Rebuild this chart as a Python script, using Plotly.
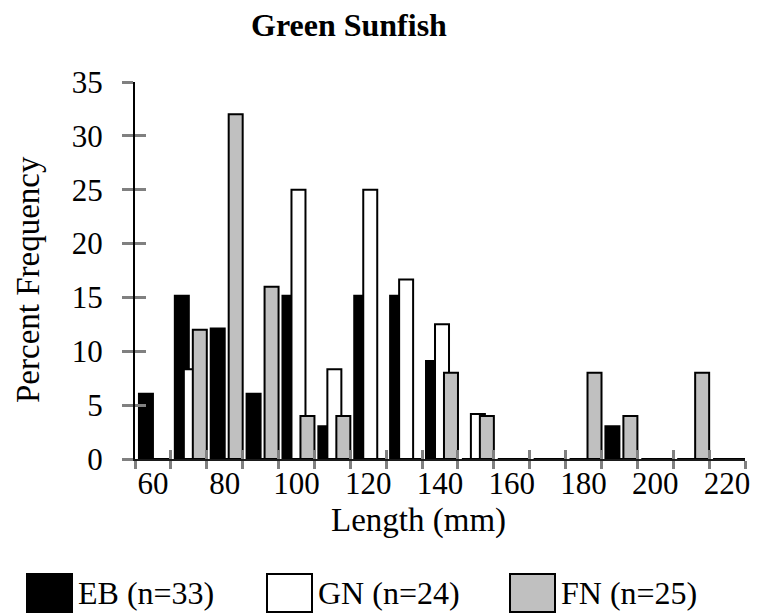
import plotly.graph_objects as go

# ---------------- data ----------------
length_bins = [60, 70, 80, 90, 100, 110, 120, 130, 140, 150, 160, 170, 180, 190, 200, 210, 220]
eb_values = [6.06, 15.15, 12.12, 6.06, 15.15, 3.03, 15.15, 15.15, 9.09, 0, 0, 0, 0, 3.03, 0, 0, 0]
gn_values = [0, 8.33, 0, 0, 25.0, 8.33, 25.0, 16.67, 12.5, 4.17, 0, 0, 0, 0, 0, 0, 0]
fn_values = [0, 12, 32, 16, 4, 4, 0, 0, 8, 4, 0, 0, 8, 4, 0, 8, 0]
series_names = ["EB (n=33)", "GN (n=24)", "FN (n=25)"]
tick_labels = ["60", "80", "100", "120", "140", "160", "180", "200", "220"]
y_ticks = [0, 5, 10, 15, 20, 25, 30, 35]
chart_title = "Green Sunfish"
x_title = "Length (mm)"
y_title = "Percent Frequency"

# ---------------- style ----------------
FONT = "Liberation Serif"
fills = ["#000000", "#FFFFFF", "#C0C0C0"]
bar_width = 3.9
bar_offsets = [-3.9, -1.39, 1.11]
PAGE_OFF = 8  # browser body margin
W, H = 760 - PAGE_OFF, 615 - PAGE_OFF
L, R, T, B = 135 - PAGE_OFF, 15, 82 - PAGE_OFF, 156
pw, ph = W - L - R, H - T - B

step = length_bins[1] - length_bins[0]
x_range = [length_bins[0] - step / 2, length_bins[-1] + step / 2]
boundaries = [length_bins[0] - step / 2 + i * step for i in range(len(length_bins) + 1)]
label_vals = [int(t) for t in tick_labels]

fig = go.Figure()
for name, vals, col, off in zip(series_names, [eb_values, gn_values, fn_values], fills, bar_offsets):
    fig.add_trace(go.Bar(
        x=length_bins, y=vals, name=name, width=bar_width, offset=off,
        marker=dict(color=col, line=dict(color="#000000", width=2)),
        showlegend=False,
    ))

# invisible trace to host overlay axes (for crossing tick marks)
fig.add_trace(go.Scatter(x=[None], y=[None], xaxis="x2", yaxis="y2",
                         showlegend=False, hoverinfo="skip"))

GRAY = "#808080"
fig.update_layout(
    width=W, height=H,
    margin=dict(l=L, r=R, t=T, b=B, autoexpand=False),
    paper_bgcolor="white", plot_bgcolor="white",
    barmode="overlay",
    font=dict(family=FONT, size=30, color="black"),
    xaxis=dict(range=x_range, tickvals=label_vals, ticktext=tick_labels, ticks="",
               showgrid=False, zeroline=False, showline=True, linecolor="#1a1a1a", linewidth=2,
               minor=dict(tickvals=boundaries, ticks="outside", ticklen=8, tickcolor=GRAY, tickwidth=3),
               ticklabelstandoff=-4,
               tickfont=dict(family=FONT, size=31)),
    yaxis=dict(range=[0, 35], tickvals=y_ticks, ticks="outside", ticklen=11, tickcolor=GRAY, tickwidth=3,
               showgrid=False, zeroline=False, showline=True, linecolor="black", linewidth=2,
               ticklabelstandoff=13,
               tickfont=dict(family=FONT, size=31)),
    xaxis2=dict(range=x_range, overlaying="x", anchor="y2", side="bottom",
                tickvals=boundaries, ticks="inside", ticklen=9, tickcolor=GRAY, tickwidth=3,
                showticklabels=False, showgrid=False, zeroline=False, showline=False),
    yaxis2=dict(range=[0, 35], overlaying="y", anchor="x2", side="left",
                tickvals=y_ticks, ticks="inside", ticklen=11, tickcolor=GRAY, tickwidth=3,
                showticklabels=False, showgrid=False, zeroline=False, showline=False),
)

def px_to_paper_x(px):
    return (px - PAGE_OFF - L) / pw

def px_to_paper_y(py):
    return (H - B - (py - PAGE_OFF)) / ph

# chart title
fig.add_annotation(text="<b>" + chart_title + "</b>", xref="paper", yref="paper",
                   x=px_to_paper_x(349), y=px_to_paper_y(25),
                   xanchor="center", yanchor="middle", showarrow=False,
                   font=dict(family=FONT, size=32, color="black"))

# axis titles (placed as in the reference, off-centre)
fig.add_annotation(text=x_title, xref="paper", yref="paper",
                   x=px_to_paper_x(418), y=px_to_paper_y(520),
                   xanchor="center", yanchor="middle", showarrow=False,
                   font=dict(family=FONT, size=33, color="black"))
fig.add_annotation(text=y_title, xref="paper", yref="paper", textangle=-90,
                   x=px_to_paper_x(28), y=px_to_paper_y(280),
                   xanchor="center", yanchor="middle", showarrow=False,
                   font=dict(family=FONT, size=33, color="black"))

# manual legend with large swatches
legend_x = [27, 267, 510]
sw_w, sw_top, sw_bot = 45, 574, 612
for name, col, lx in zip(series_names, fills, legend_x):
    fig.add_shape(type="rect", xref="paper", yref="paper",
                  x0=px_to_paper_x(lx), x1=px_to_paper_x(lx + sw_w),
                  y0=px_to_paper_y(sw_bot), y1=px_to_paper_y(sw_top),
                  fillcolor=col, line=dict(color="black", width=2))
    fig.add_annotation(text=name, xref="paper", yref="paper",
                       x=px_to_paper_x(lx + sw_w + 4), y=px_to_paper_y((sw_top + sw_bot) / 2),
                       xanchor="left", yanchor="middle", showarrow=False,
                       font=dict(family=FONT, size=32, color="black"))

fig.write_html("out.html")
